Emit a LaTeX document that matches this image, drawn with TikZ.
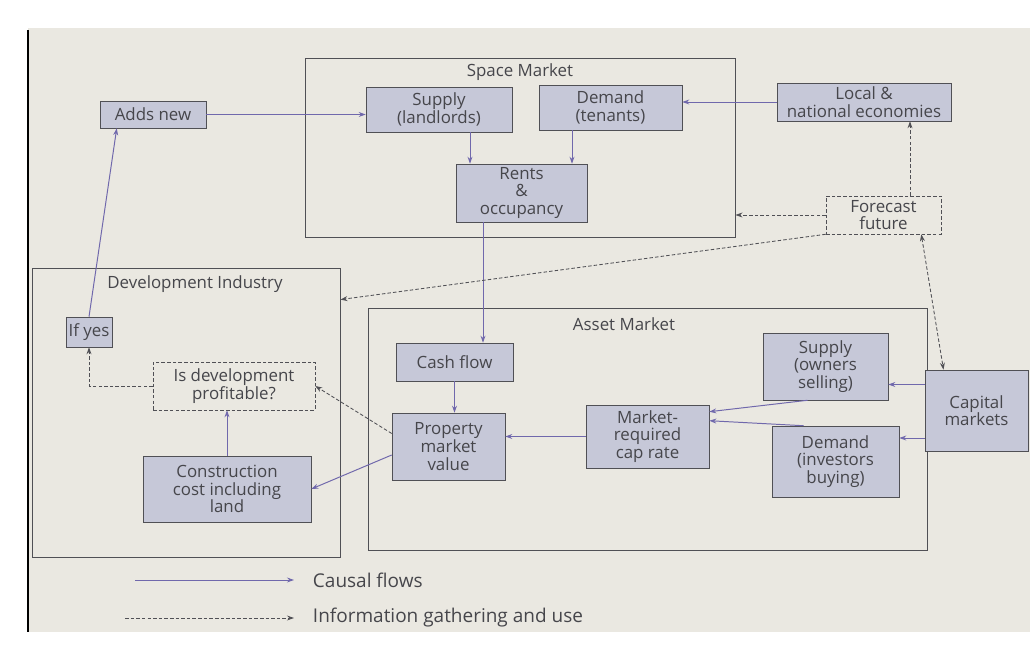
\documentclass[tikz,border=0pt]{standalone}
\usepackage{fontspec}
\setmainfont{Open Sans}
\usepackage{tikz}
\usetikzlibrary{arrows.meta, calc}

\definecolor{pagecol}{RGB}{234,232,225}
\definecolor{boxfill}{RGB}{198,200,216}
\definecolor{boxline}{RGB}{80,80,85}
\definecolor{flowcol}{RGB}{112,104,172}
\definecolor{infocol}{RGB}{80,80,85}
\definecolor{txtcol}{RGB}{70,70,75}

\begin{document}
\begin{tikzpicture}[x=0.025cm, y=-0.025cm, >={Stealth[length=5pt,width=3.5pt]},
    every node/.style={text=txtcol},
    factor/.style={draw=boxline, fill=boxfill, align=center, inner sep=1pt,
        font=\fontsize{12}{12.5}\selectfont},
    check/.style={draw=infocol, dash pattern=on 2.5pt off 1.5pt, fill=pagecol, align=center, inner sep=1pt,
        font=\fontsize{12}{12.5}\selectfont},
    market/.style={draw=boxline, semithick, inner sep=0pt},
    title/.style={font=\fontsize{12}{13}\selectfont},
    causal/.style={->, flowcol, line width=0.7pt},
    info/.style={->, infocol, line width=0.6pt, dash pattern=on 2.5pt off 1.5pt}]
    \useasboundingbox (0,0) rectangle (1035,648);
    % page
    \fill[pagecol] (28,28) rectangle (1030,632);
    \draw[black, line width=1.5pt] (28,30) -- (28,632);

    % market frames
    \node[market, minimum width=430*0.025cm, minimum height=179*0.025cm] (space) at (520,147.5) {};
    \node[title] at (520,72) {Space Market};
    \node[market, minimum width=308*0.025cm, minimum height=289*0.025cm] (devind) at (186,412.5) {};
    \node[title] at (195,284) {Development Industry};
    \node[market, minimum width=559*0.025cm, minimum height=242*0.025cm] (asset) at (647.5,429) {};
    \node[title] at (624,324) {Asset Market};

    % space market
    \node[factor, minimum width=146*0.025cm, minimum height=45*0.025cm] (supplyL) at (439,109.5) {Supply\\(landlords)};
    \node[factor, minimum width=143*0.025cm, minimum height=45*0.025cm] (demandT) at (610.5,107.5) {Demand\\(tenants)};
    \node[factor, minimum width=131*0.025cm, minimum height=58*0.025cm] (rents) at (521.5,193) {Rents\\\&\\occupancy};
    \node[factor, minimum width=174*0.025cm, minimum height=38*0.025cm] (economy) at (864,102) {Local \&\\national economies};
    \node[check, minimum width=115*0.025cm, minimum height=38*0.025cm] (forecast) at (883.5,215) {Forecast\\future};
    \node[factor, minimum width=106*0.025cm, minimum height=27*0.025cm] (addsnew) at (153,114.5) {Adds new};

    % development industry
    \node[factor, minimum width=46*0.025cm, minimum height=30*0.025cm] (ifyes) at (89,332) {If yes};
    \node[check, minimum width=162*0.025cm, minimum height=48*0.025cm] (profit) at (234,386) {Is development\\profitable?};
    \node[factor, minimum width=168*0.025cm, minimum height=66*0.025cm] (cost) at (227,489) {Construction\\cost including\\land};

    % asset market
    \node[factor, minimum width=117*0.025cm, minimum height=38*0.025cm] (cashflow) at (454.5,362) {Cash flow};
    \node[factor, minimum width=113*0.025cm, minimum height=67*0.025cm] (value) at (448.5,446.5) {Property\\market\\value};
    \node[factor, minimum width=123*0.025cm, minimum height=63*0.025cm] (caprate) at (647.5,436.5) {Market-\\required\\cap rate};
    \node[factor, minimum width=125*0.025cm, minimum height=67*0.025cm] (supplyO) at (825.5,366.5) {Supply\\(owners\\selling)};
    \node[factor, minimum width=127*0.025cm, minimum height=71*0.025cm] (demandI) at (835.5,461.5) {Demand\\(investors\\buying)};
    \node[factor, minimum width=103*0.025cm, minimum height=81*0.025cm] (capital) at (976.5,410.5) {Capital\\markets};

    % causal flows
    \draw[causal] (addsnew.east) -- (addsnew.east -| supplyL.west);
    \draw[causal] (economy.west) -- (economy.west -| demandT.east);
    \coordinate (sl) at ($(supplyL.south)+(31,0)$);
    \draw[causal] (sl) -- (sl |- rents.north);
    \coordinate (dt) at ($(demandT.south)+(-38.5,0)$);
    \draw[causal] (dt) -- (dt |- rents.north);
    \coordinate (rc) at ($(rents.south)+(-38.5,0)$);
    \draw[causal] (rc) -- (rc |- cashflow.north);
    \draw[causal] (cashflow.south) -- (cashflow.south |- value.north);
    \draw[causal] (caprate.west) -- (caprate.west -| value.east);
    \draw[causal] ($(supplyO.south)+(-18,0)$) -- ($(caprate.north east)+(0,7)$);
    \draw[causal] ($(demandI.north)+(-32,0)$) -- ($(caprate.north east)+(0,16)$);
    \coordinate (so) at ($(supplyO.east)+(0,18)$);
    \draw[causal] (so -| capital.west) -- (so);
    \coordinate (di) at ($(demandI.east)+(0,-23.5)$);
    \draw[causal] (di -| capital.west) -- (di);
    \draw[causal] ($(value.west)+(0,8.5)$) -- (cost.east);
    \draw[causal] (cost.north) -- (cost.north |- profit.south);
    \draw[causal] (ifyes.north) -- ($(addsnew.south west)+(17,0)$);

    % information flows
    \draw[info] (profit.west) -| (ifyes.south);
    \draw[info] ($(value.west)+(0,-13)$) -- (profit.east);
    \draw[info] (forecast.west) -- (forecast.west -| space.east);
    \coordinate (fe) at ($(economy.south)+(46,0)$);
    \draw[info] (fe |- forecast.north) -- (fe);
    \draw[info, <->] ($(forecast.south east)+(-20,0)$) -- ($(capital.north)+(-33,0)$);
    \draw[info] (forecast.south west) -- ($(devind.north east)+(0,32)$);

    % legend
    \node[anchor=west, font=\fontsize{13.5}{15}\selectfont] (lgcausal) at (308,580) {Causal flows};
    \node[anchor=west, font=\fontsize{13.5}{15}\selectfont] (lginfo) at (308,618) {Information gathering and use};
    \coordinate (lc) at (135,580);
    \coordinate (li) at (125,618);
    \draw[causal] (lc) -- ($(lgcausal.west)+(-14,0)$);
    \draw[info] (li) -- ($(lginfo.west)+(-14,0)$);
\end{tikzpicture}
\end{document}
